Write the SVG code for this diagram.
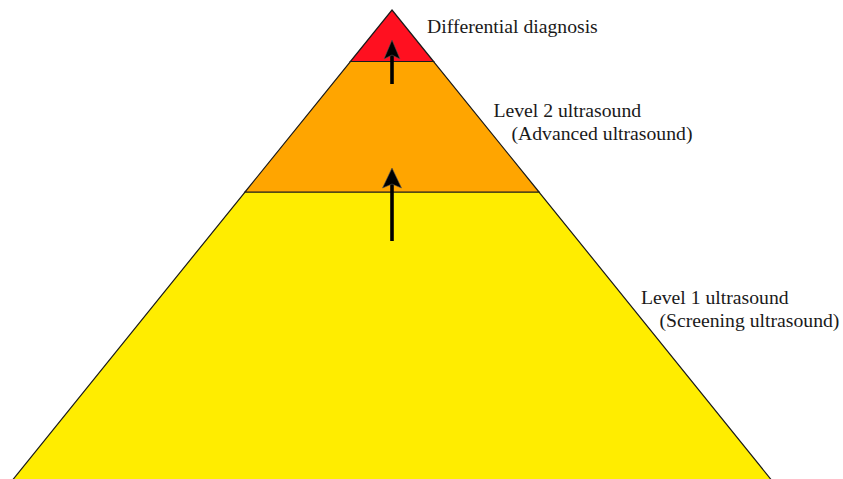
<svg xmlns="http://www.w3.org/2000/svg" width="843" height="479" viewBox="0 0 843 479">
<style>
.band{stroke:#1a1a1a;stroke-width:1.2;stroke-linejoin:miter}
.lbl{font-family:'Liberation Serif','Times New Roman',serif;font-size:19.7px;fill:#1a1a1a}
.shaft{stroke:#000;stroke-width:3.6;fill:none}
.head{fill:#000;stroke:#555;stroke-width:0.6}
</style>
<rect width="843" height="479" fill="#fff"/>
<g id="level1">
<polygon class="band" points="245,192 539,192 771,479.5 13,479.5" fill="#FFED00"/>
<text class="lbl" x="641" y="303.5">Level 1 ultrasound</text>
<text class="lbl" x="659.5" y="326.5">(Screening ultrasound)</text>
</g>
<g id="level2">
<polygon class="band" points="350.4,61.5 433.6,61.5 539,192 245,192" fill="#FFA500"/>
<text class="lbl" x="493.5" y="117">Level 2 ultrasound</text>
<text class="lbl" x="511.5" y="140">(Advanced ultrasound)</text>
</g>
<g id="diagnosis">
<polygon class="band" points="392,10 433.6,61.5 350.4,61.5" fill="#FF1020"/>
<text class="lbl" x="427" y="32.5">Differential diagnosis</text>
</g>
<g id="connectors">
<line class="shaft" x1="392" y1="84" x2="392" y2="54"/>
<polygon class="head" points="392,40 400,59 392,55 384,59"/>
<line class="shaft" x1="392" y1="241" x2="392" y2="183"/>
<polygon class="head" points="392,168 401.5,188 392,184 382.5,188"/>
</g>
</svg>
